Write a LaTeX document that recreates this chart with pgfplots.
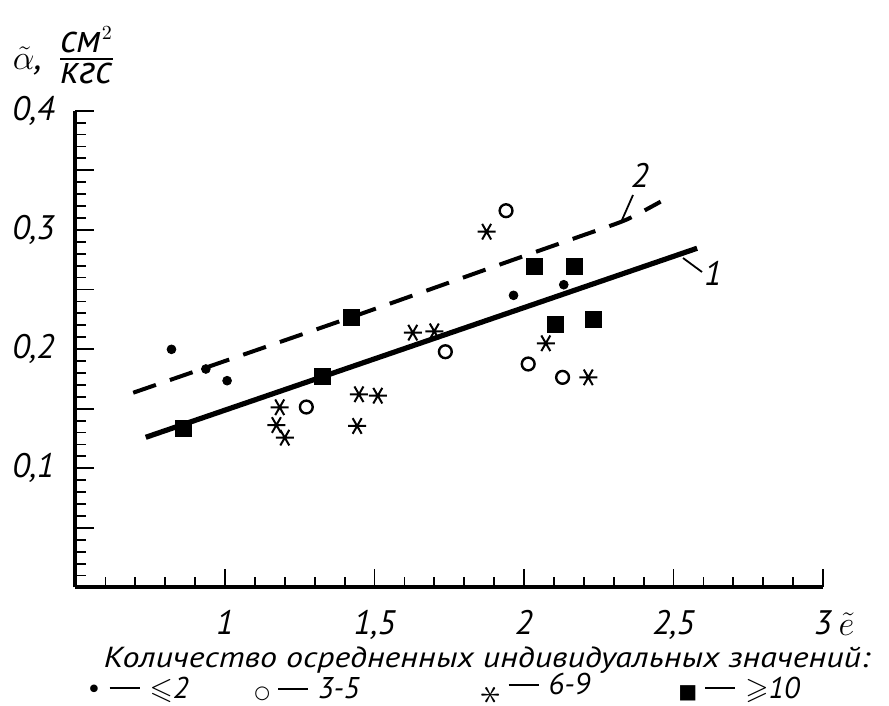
\documentclass[border=0pt]{standalone}
\usepackage{amssymb}
\usepackage{amsmath}
\usepackage{pgfplots}
\pgfplotsset{compat=1.18}
\usepackage{fontspec}
\setmainfont{PT Sans}
\newfontfamily\symfont{DejaVu Sans}
\newcommand{\ldash}{\hspace{4pt}\rule[0.3em]{15pt}{0.9pt}\hspace{5pt}}

\begin{document}
\begin{tikzpicture}[x=1pt,y=1pt]
\useasboundingbox (-37.75,-59.25) rectangle (406.75,293.75);
\begin{axis}[
    at={(0,0)}, anchor=south west,
    scale only axis, width=373.75pt, height=238.4pt,
    xmin=0.5, xmax=3, ymin=0, ymax=0.4,
    axis x line=bottom, axis y line=left,
    axis line style={line width=2pt,-},
    xtick={0.5,1,1.5,2,2.5,3},
    xticklabels={,1,{1,5},2,{2,5},3},
    minor x tick num=4,
    ytick={0,0.05,0.1,0.15,0.2,0.25,0.3,0.35,0.4},
    yticklabels={,,{0,1},,{0,2},,{0,3},,{0,4}},
    minor y tick num=4,
    tick align=inside,
    major tick length=9pt, minor tick length=5pt,
    tick style={line width=0.9pt,black},
    ticklabel style={font=\fontsize{17}{20}\selectfont\itshape},
    xticklabel style={yshift=-8pt},
    yticklabel style={xshift=-7pt},
    clip=false,
]
% line 1
\addplot[line width=2.6pt] coordinates {(0.735,0.126) (2.579,0.2846)};
% line 2
\addplot[line width=2pt, dash pattern=on 12pt off 7.4pt, smooth, tension=0.4] coordinates {
    (0.693,0.1634) (1.422,0.2267) (1.956,0.2742) (2.184,0.2943) (2.34,0.3083) (2.457,0.3237)};
% <= 2
\addplot[only marks, mark=*, mark size=2.2pt, black] coordinates {
    (0.821,0.1998) (0.936,0.1833) (1.007,0.1735) (1.965,0.2451) (2.133,0.254)};
% 3-5
\addplot[only marks, mark=o, mark size=3.2pt, black, mark options={line width=1.2pt}] coordinates {
    (1.272,0.1514) (1.737,0.1978) (1.940,0.3161) (2.014,0.1875) (2.129,0.1763)};
% 6-9
\addplot[only marks, mark=asterisk, mark size=4.5pt, black, mark options={line width=1pt, rotate=90}] coordinates {
    (1.183,0.1512) (1.172,0.1363) (1.200,0.1257) (1.448,0.1621) (1.511,0.1609) (1.442,0.1355)
    (1.628,0.2138) (1.700,0.2149) (1.875,0.2985) (2.073,0.2049) (2.215,0.1763)};
% >= 10
\addplot[only marks, mark=square*, mark size=4pt, black] coordinates {
    (0.860,0.1336) (1.327,0.1774) (1.422,0.2267) (2.034,0.2697) (2.168,0.2697) (2.104,0.2211) (2.232,0.225)};
\end{axis}
\begin{scope}[font=\fontsize{17}{20}\selectfont\itshape]
\node at (282.25,206) {2};
\draw[line width=0.9pt] (273.25,183.75) -- (278.75,196.25);
\node at (318.75,157.25) {1};
\draw[line width=0.9pt] (303.75,164.75) -- (313.25,157.75);
\node at (385.5,-18.5) {\fontsize{19}{22}\selectfont$\tilde{e}$};
\node[inner sep=0pt] at (-24,263) {\fontsize{19}{22}\selectfont$\tilde{\alpha}$,};
\node[inner sep=0pt] at (5.5,266) {\fontsize{20}{24}\selectfont$\frac{\mbox{\itshape см}^{2}}{\mbox{\itshape кгс}}$};
\node[inner sep=0pt] at (205.75,-36.5) {\fontsize{14.5}{17}\selectfont\scalebox{1.17}[1]{Количество осредненных индивидуальных значений:}};
\end{scope}
% legend row
\begin{scope}[font=\fontsize{15}{17}\selectfont\itshape]
\node[anchor=west, inner sep=0pt] at (5.25,-51) {{\symfont\fontsize{13}{16}\selectfont\upshape •}\ldash$\leqslant$2};
\node[anchor=west, inner sep=0pt] at (89.25,-51) {{\symfont\fontsize{9}{12}\selectfont\upshape ○}\ldash 3-5};
\node[anchor=west, inner sep=0pt] at (202.75,-51) {\raisebox{-0.35em}{\rotatebox{90}{\fontsize{22}{24}\selectfont$\ast$}}\ldash 6-9};
\node[anchor=west, inner sep=0pt] at (301.25,-51) {{\symfont\fontsize{10}{12}\selectfont\upshape ■}\ldash$\geqslant$10};
\end{scope}
\end{tikzpicture}
\end{document}
